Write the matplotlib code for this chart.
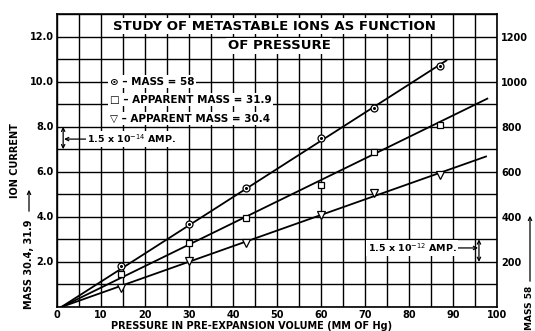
import matplotlib
matplotlib.use("Agg")
import matplotlib.pyplot as plt
from matplotlib.patches import FancyArrowPatch
from matplotlib.ticker import MultipleLocator

plt.rcParams['font.family'] = ['DejaVu Sans']

# Pressure in pre-expansion volume (mm of Hg)
pressure = [14.5, 30, 43, 60, 72, 87]
# Ion current, left scale (mass 31.9 and 30.4)
mass_319 = [1.45, 2.83, 3.94, 5.42, 6.88, 8.06]
mass_304 = [0.86, 2.04, 2.83, 4.09, 5.08, 5.87]
# Ion current, right scale (mass 58)
mass_58 = [182, 368, 528, 752, 882, 1070]

# Straight-line fits drawn through the points
fit_start = 1.0
fit_slope_58 = 12.5
fit_end_58 = 88.5
fit_slope_319 = 0.0955
fit_end_319 = 97.8
fit_slope_304 = 0.0692
fit_end_304 = 97.5

x_ticks = [0, 10, 20, 30, 40, 50, 60, 70, 80, 90, 100]
left_ticks = [2.0, 4.0, 6.0, 8.0, 10.0, 12.0]
right_ticks = [200, 400, 600, 800, 1000, 1200]

FS = 7.0
W = 'bold'

fig = plt.figure(figsize=(5.35, 3.31), dpi=100)
ax = fig.add_axes([57/535, 1-307/331, 440/535, 293/331])
ax.set_xlim(0, 100)
ax.set_ylim(0, 13)
ax.xaxis.set_major_locator(MultipleLocator(5))
ax.yaxis.set_major_locator(MultipleLocator(1))
ax.grid(True, color='black', lw=1.0)
ax.set_axisbelow(True)
ax.tick_params(length=0, labelleft=False, labelbottom=False)
for s in ax.spines.values():
    s.set_linewidth(1.2)

# tick labels
for xv in x_ticks:
    ax.text(xv, -0.15, f"{xv}", ha='center', va='top', fontsize=FS, fontweight=W)
for yv in left_ticks:
    ax.text(-0.8, yv, f"{yv:.1f}", ha='right', va='center', fontsize=FS, fontweight=W)

ax2 = ax.twinx()
ax2.set_ylim(0, 1300)
ax2.set_yticks(right_ticks)
ax2.set_yticklabels([str(v) for v in right_ticks], fontsize=FS, fontweight=W)
ax2.tick_params(length=0, pad=3)
for s in ax2.spines.values():
    s.set_visible(False)

mk = dict(mfc='white', mec='black', mew=0.9, ms=5, ls='none', zorder=5)

# mass 31.9 and 30.4 on left scale
ax.plot([fit_start, fit_end_319],
        [0, fit_slope_319 * (fit_end_319 - fit_start)], color='black', lw=1.3)
ax.plot([fit_start, fit_end_304],
        [0, fit_slope_304 * (fit_end_304 - fit_start)], color='black', lw=1.3)
ax.plot(pressure, mass_319, marker='s', **mk)
ax.plot(pressure, mass_304, marker='v', mfc='white', mec='black', mew=0.9,
        ms=6, ls='none', zorder=5)

# mass 58 on right scale
ax2.plot([fit_start, fit_end_58],
         [0, fit_slope_58 * (fit_end_58 - fit_start)], color='black', lw=1.3)
ax2.plot(pressure, mass_58, marker='o', **mk)
ax2.plot(pressure, mass_58, marker='o', ms=1.2, mfc='black', mec='black',
         ls='none', zorder=6)

wb = dict(fc='white', ec='none', pad=1.0)

# title
ax.text(49.5, 12.45, "STUDY OF METASTABLE IONS AS FUNCTION", ha='center', va='center',
        fontsize=9.5, fontweight=W, bbox=wb)
ax.text(50.5, 11.6, "OF PRESSURE", ha='center', va='center',
        fontsize=9.5, fontweight=W, bbox=wb)

# legend
ax.text(12.0, 10.0, "⊙ – MASS = 58", ha='left', va='center', fontsize=7.5,
        fontweight=W, bbox=wb)
ax.text(12.0, 9.2, "□ – APPARENT MASS = 31.9", ha='left', va='center', fontsize=7.5,
        fontweight=W, bbox=wb)
ax.text(12.0, 8.35, "▽ – APPARENT MASS = 30.4", ha='left', va='center', fontsize=7.5,
        fontweight=W, bbox=wb)

arrow_kw = dict(lw=0.9, color='black', mutation_scale=6, shrinkA=0, shrinkB=0)

# scale brackets
ax.annotate("", xy=(1.4, 8.0), xytext=(1.4, 7.0),
            arrowprops=dict(arrowstyle='<->', **arrow_kw))
ax.annotate("", xy=(1.6, 7.45), xytext=(6.6, 7.45),
            arrowprops=dict(arrowstyle='->', **arrow_kw))
ax.text(6.9, 7.45, r"1.5 x 10$^{-14}$ AMP.", ha='left', va='center', fontsize=6.8,
        fontweight=W, bbox=wb)

ax.annotate("", xy=(95.9, 3.0), xytext=(95.9, 2.0),
            arrowprops=dict(arrowstyle='<->', **arrow_kw))
ax.annotate("", xy=(95.7, 2.62), xytext=(89.5, 2.62),
            arrowprops=dict(arrowstyle='->', **arrow_kw))
ax.text(70.6, 2.62, r"1.5 x 10$^{-12}$ AMP.", ha='left', va='center', fontsize=6.8,
        fontweight=W, bbox=wb)

# axis titles
fig.text(0.47, 1-326/331, "PRESSURE IN PRE-EXPANSION VOLUME (MM OF Hg)",
         ha='center', va='center', fontsize=FS, fontweight=W)
fig.text(29/535, 1-264/331, "MASS 30.4, 31.9", rotation=90, ha='center',
         va='center', fontsize=FS, fontweight=W)
fig.text(15/535, 1-161/331, "ION CURRENT", rotation=90, ha='center',
         va='center', fontsize=FS, fontweight=W)
fig.add_artist(FancyArrowPatch(
    (29/535, 1-214/331), (29/535, 1-187/331), transform=fig.transFigure,
    arrowstyle='->', mutation_scale=6, lw=0.9, color='black'))
fig.text(529/535, 1-308/331, "MASS 58", rotation=90, ha='center',
         va='center', fontsize=6.5, fontweight=W)
fig.add_artist(FancyArrowPatch(
    (530/535, 1-284/331), (530/535, 1-213/331), transform=fig.transFigure,
    arrowstyle='->', mutation_scale=6, lw=0.9, color='black'))

fig.savefig("out.png", dpi=100, facecolor='white')
